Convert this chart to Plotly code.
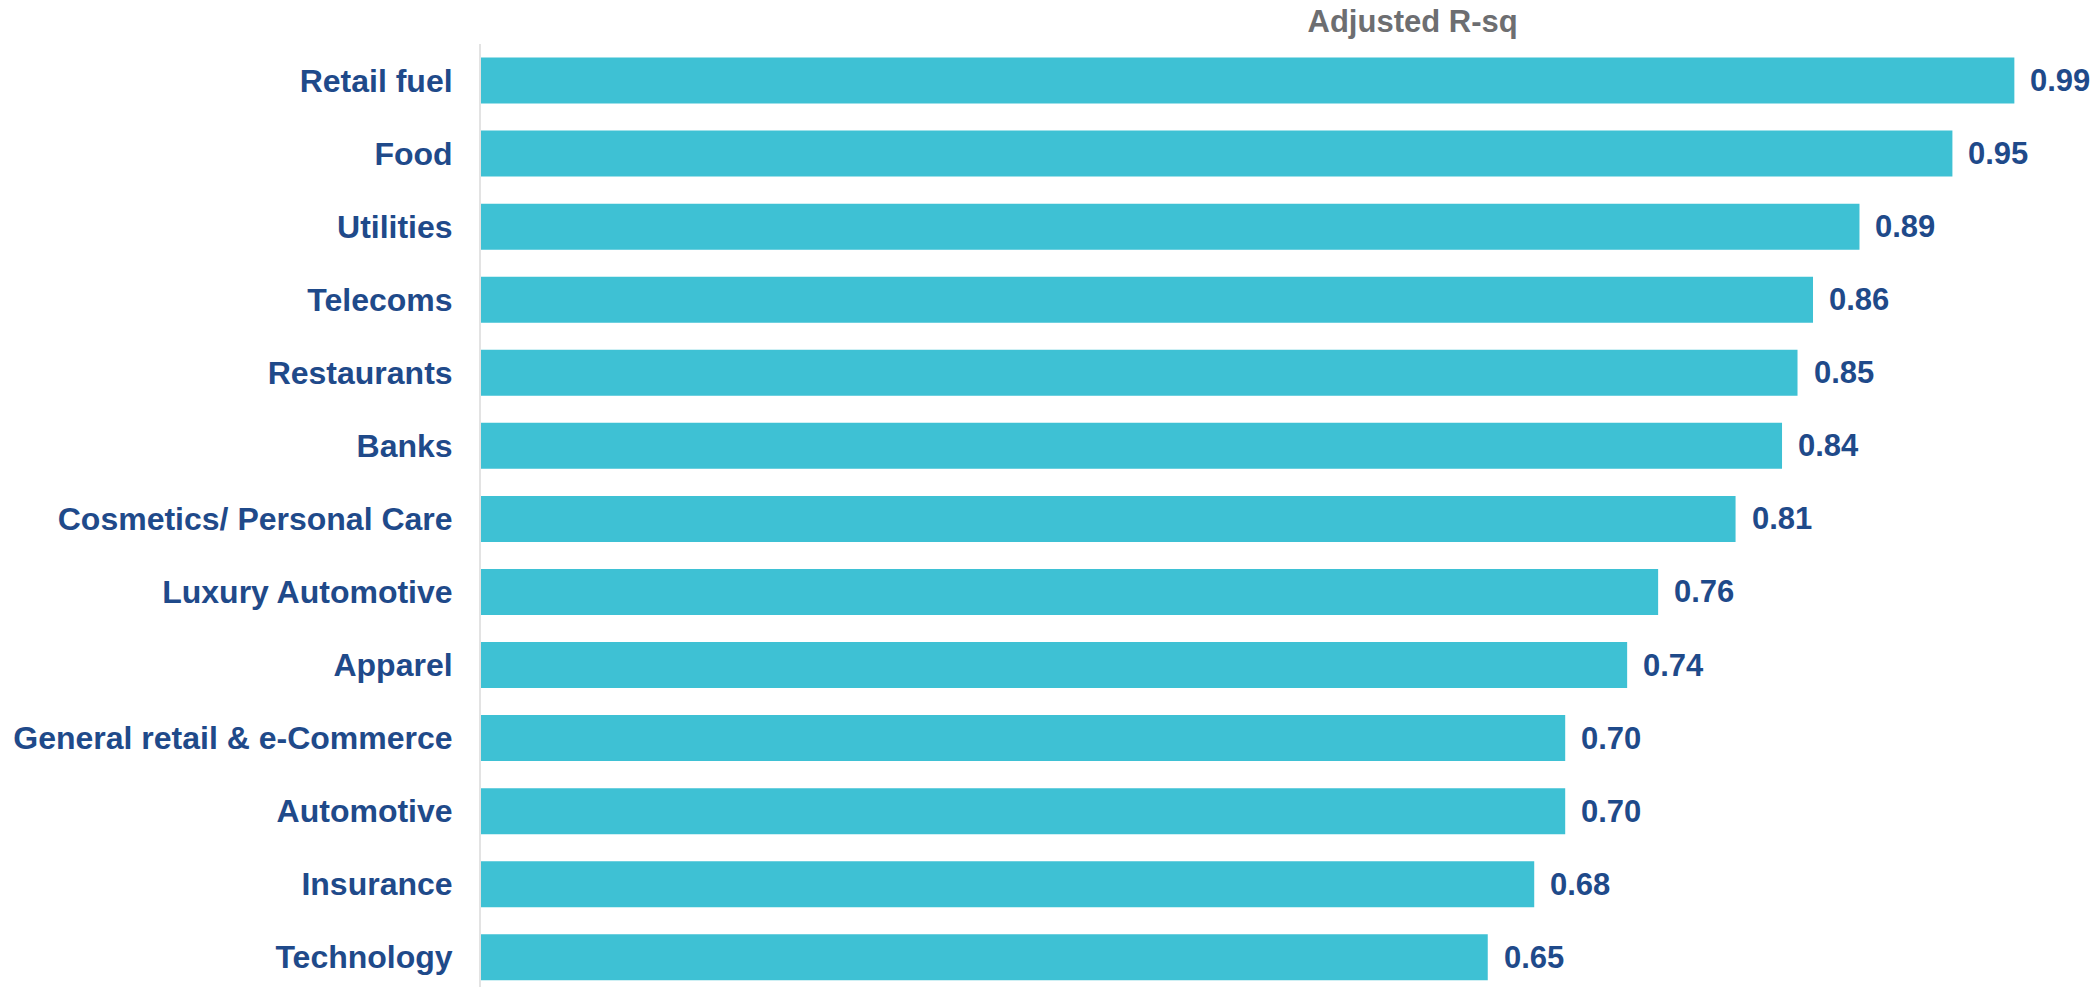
import plotly.graph_objects as go

# Adjusted R-squared by sector
sectors = [
    "Retail fuel", "Food", "Utilities", "Telecoms", "Restaurants", "Banks",
    "Cosmetics/ Personal Care", "Luxury Automotive", "Apparel",
    "General retail & e-Commerce", "Automotive", "Insurance", "Technology",
]
adj_r_sq = [0.99, 0.95, 0.89, 0.86, 0.85, 0.84, 0.81, 0.76, 0.74, 0.70, 0.70, 0.68, 0.65]
chart_title = "Adjusted R-sq"

BAR_COLOR = "#3EC1D4"
LABEL_COLOR = "#1F4A8A"
TITLE_COLOR = "#6D6E71"
FONT = "Liberation Sans, Arial, sans-serif"

fig = go.Figure(
    go.Bar(
        x=adj_r_sq,
        y=sectors,
        orientation="h",
        marker=dict(color=BAR_COLOR, line=dict(width=0)),
        hoverinfo="x+y",
    )
)

# value labels to the right of each bar
for s, v in zip(sectors, adj_r_sq):
    fig.add_annotation(
        x=v, y=s, text=f"{v:.2f}", showarrow=False,
        xanchor="left", yanchor="middle", xshift=14,
        font=dict(family=FONT, size=31, color=LABEL_COLOR, weight="bold"),
    )

fig.update_layout(
    width=2098, height=987,
    margin=dict(l=481, r=0, t=44, b=0),
    paper_bgcolor="white", plot_bgcolor="white",
    bargap=0.37,
    showlegend=False,
    title=dict(
        text=chart_title, x=0.6733, y=1 - 21 / 987,
        xanchor="center", yanchor="middle", xref="container", yref="container",
        font=dict(family=FONT, size=31, color=TITLE_COLOR, weight="bold"),
    ),
    xaxis=dict(range=[0, 1.044], visible=False, fixedrange=True),
    yaxis=dict(
        type="category",
        categoryorder="array", categoryarray=sectors,
        range=[12.407, -0.5],
        showline=True, linecolor="#E3E3E3", linewidth=2,
        showgrid=False, zeroline=False,
        ticks="", ticklabelstandoff=20,
        tickfont=dict(family=FONT, size=32, color=LABEL_COLOR, weight="bold"),
    ),
)

fig.write_html("out.html")
